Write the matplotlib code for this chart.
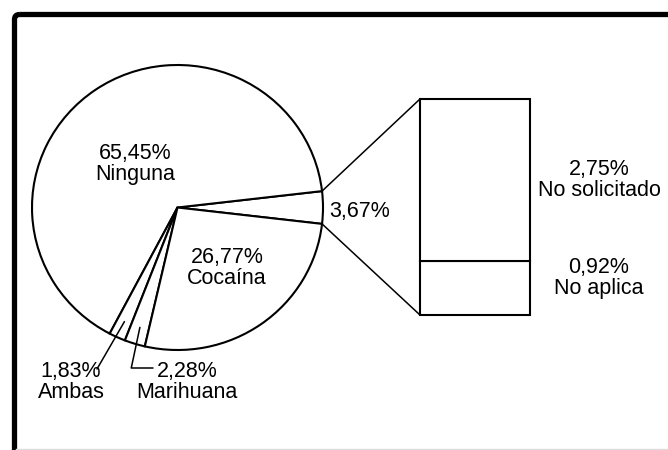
import matplotlib
matplotlib.use('Agg')
import matplotlib.pyplot as plt
import numpy as np
from matplotlib.patches import ConnectionPatch, FancyBboxPatch

plt.rcParams['font.family'] = ['Liberation Sans', 'DejaVu Sans']

# pie shares (%), counter-clockwise from the exploded slice
pie_labels = ['Otros', 'Ninguna', 'Ambas', 'Marihuana', 'Cocaína']
pie_values = [3.67, 65.45, 1.83, 2.28, 26.77]

# breakdown of the "Otros" slice, bottom to top
bar_labels = ['No aplica', 'No solicitado']
bar_values = [0.92, 2.75]

W, H = 668, 450
fig = plt.figure(figsize=(W / 100, H / 100), dpi=100)
fig.patch.set_facecolor('white')


def px_box(x0, y0, x1, y1):
    """pixel box (top-left origin) -> figure fraction rect"""
    return [x0 / W, (H - y1) / H, (x1 - x0) / W, (y1 - y0) / H]


fmt = lambda v: f'{v:.2f}%'.replace('.', ',')

# ---- pie (slightly elliptical, so aspect is left free) ----
pie_ax = fig.add_axes(px_box(32, 65, 323, 350))
start = -pie_values[0] / 100 * 360 / 2
wedges, _ = pie_ax.pie(pie_values, startangle=start, counterclock=True,
                       radius=1, wedgeprops=dict(facecolor='white', edgecolor='black',
                                                 linewidth=1.5))
pie_ax.set_aspect('auto')
pie_ax.set_xlim(-1, 1)
pie_ax.set_ylim(-1, 1)
pie_ax.axis('off')
for w in wedges:
    w.set_clip_on(False)

# ---- stacked bar for the breakdown ----
bar_ax = fig.add_axes(px_box(420, 99, 530, 315))
bottom = 0
for v in bar_values:
    r = bar_ax.bar(0, v, width=1, bottom=bottom, color='white',
                   edgecolor='black', linewidth=1.5)
    r[0].set_clip_on(False)
    bottom += v
bar_ax.set_xlim(-0.5, 0.5)
bar_ax.set_ylim(0, sum(bar_values))
bar_ax.axis('off')

# connectors from the small slice to the bar
t1, t2 = np.deg2rad(wedges[0].theta1), np.deg2rad(wedges[0].theta2)
for th, yb in [(t2, sum(bar_values)), (t1, 0)]:
    con = ConnectionPatch(xyA=(np.cos(th), np.sin(th)), coordsA=pie_ax.transData,
                          xyB=(-0.5, yb), coordsB=bar_ax.transData,
                          color='black', linewidth=1.1)
    fig.add_artist(con)

# ---- overlay in pixel coordinates for labels and frame ----
ov = fig.add_axes([0, 0, 1, 1])
ov.set_xlim(0, W)
ov.set_ylim(H, 0)
ov.axis('off')

fs = 15.5
ov.text(135, 164, f'{fmt(pie_values[1])}\n{pie_labels[1]}', ha='center', va='center',
        fontsize=fs, linespacing=1.0)
ov.text(227, 268, f'{fmt(pie_values[4])}\n{pie_labels[4]}', ha='center', va='center',
        fontsize=fs, linespacing=1.0)
ov.text(360, 211, fmt(pie_values[0]), ha='center', va='center', fontsize=fs)
ov.text(599, 180, f'{fmt(bar_values[1])}\n{bar_labels[1]}', ha='center', va='center',
        fontsize=fs, linespacing=1.0)
ov.text(599, 278, f'{fmt(bar_values[0])}\n{bar_labels[0]}', ha='center', va='center',
        fontsize=fs, linespacing=1.0)
ov.text(71, 382, f'{fmt(pie_values[2])}\n{pie_labels[2]}', ha='center', va='center',
        fontsize=fs, linespacing=1.0)
ov.text(187, 382, f'{fmt(pie_values[3])}\n{pie_labels[3]}', ha='center', va='center',
        fontsize=fs, linespacing=1.0)


def inner_point(w, r=0.88):
    th = np.deg2rad((w.theta1 + w.theta2) / 2)
    return r * np.cos(th), r * np.sin(th)


# leader lines for the two thin slices
fig.add_artist(ConnectionPatch(xyA=inner_point(wedges[2]), coordsA=pie_ax.transData,
                               xyB=(97, 369), coordsB=ov.transData,
                               color='black', linewidth=1.1))
fig.add_artist(ConnectionPatch(xyA=inner_point(wedges[3]), coordsA=pie_ax.transData,
                               xyB=(153, 368), coordsB=ov.transData,
                               connectionstyle='angle,angleA=78,angleB=0,rad=0',
                               color='black', linewidth=1.1))

# outer frame (runs off the right and bottom edges)
frame = FancyBboxPatch((14.5, 14.5), 700, 480, boxstyle='round,pad=0,rounding_size=5',
                       transform=ov.transData, facecolor='none', edgecolor='black',
                       linewidth=3.8, clip_on=False)
ov.add_patch(frame)
ov.plot([16, W], [448.5, 448.5], color='#dddddd', linewidth=1.0)

fig.savefig('out.png', dpi=100, facecolor='white')
